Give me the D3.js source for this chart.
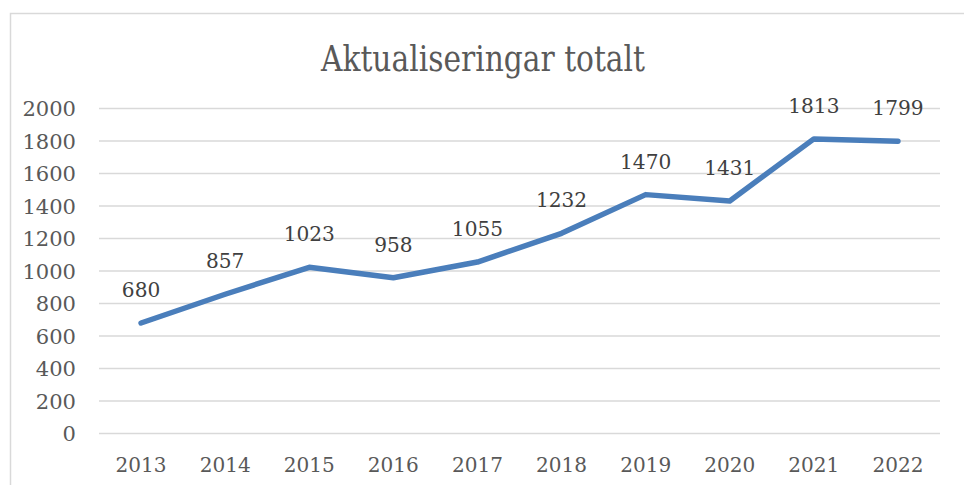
<!DOCTYPE html>
<html>
<head>
<meta charset="utf-8">
<script src="https://cdn.jsdelivr.net/npm/d3@7"></script>
<style>
  body { margin: 0; background: #fff; }
  svg { display: block; }
</style>
</head>
<body>
<script>
// data
var years = ['2013', '2014', '2015', '2016', '2017', '2018', '2019', '2020', '2021', '2022'];
var values = [680, 857, 1023, 958, 1055, 1232, 1470, 1431, 1813, 1799];
var yTicks = [0, 200, 400, 600, 800, 1000, 1200, 1400, 1600, 1800, 2000];
var title = 'Aktualiseringar totalt';

var width = 964, height = 485;
var font = '"DejaVu Serif", "Liberation Serif", serif';

var svg = d3.select('body')
    .append('svg')
    .attr('width', width)
    .attr('height', height);

// chart frame (runs off the right and bottom edge)
svg.append('rect')
    .attr('x', 10.5)
    .attr('y', 13.5)
    .attr('width', 1000)
    .attr('height', 600)
    .attr('fill', 'none')
    .attr('stroke', '#d9d9d9')
    .attr('stroke-width', 1.5);

var x = d3.scaleBand()
    .domain(years)
    .range([99, 940]);

var y = d3.scaleLinear()
    .domain([0, 2000])
    .range([433.5, 108.5]);

// gridlines
svg.append('g')
    .selectAll('line')
    .data(yTicks)
    .enter()
    .append('line')
    .attr('x1', 99)
    .attr('x2', 940)
    .attr('y1', function (d) { return y(d); })
    .attr('y2', function (d) { return y(d); })
    .attr('stroke', '#d9d9d9')
    .attr('stroke-width', 1.5);

// y axis labels
svg.append('g')
    .selectAll('text')
    .data(yTicks)
    .enter()
    .append('text')
    .attr('x', 76)
    .attr('y', function (d) { return y(d) + 7.5; })
    .attr('text-anchor', 'end')
    .attr('textLength', function (d) { return String(d).length * 13.4; })
    .attr('lengthAdjust', 'spacingAndGlyphs')
    .style('font-family', font)
    .style('font-size', '21px')
    .attr('fill', '#595959')
    .text(function (d) { return d; });

// x axis labels
svg.append('g')
    .selectAll('text')
    .data(years)
    .enter()
    .append('text')
    .attr('x', function (d) { return x(d) + x.bandwidth() / 2; })
    .attr('y', 472)
    .attr('text-anchor', 'middle')
    .attr('textLength', 51)
    .attr('lengthAdjust', 'spacingAndGlyphs')
    .style('font-family', font)
    .style('font-size', '21px')
    .attr('fill', '#595959')
    .text(function (d) { return d; });

// line
var line = d3.line()
    .x(function (d, i) { return x(years[i]) + x.bandwidth() / 2; })
    .y(function (d) { return y(d); });

svg.append('path')
    .datum(values)
    .attr('d', line)
    .attr('fill', 'none')
    .attr('stroke', '#4a7ebb')
    .attr('stroke-width', 5.5)
    .attr('stroke-linecap', 'round')
    .attr('stroke-linejoin', 'round');

// data labels above points
svg.append('g')
    .selectAll('text')
    .data(values)
    .enter()
    .append('text')
    .attr('x', function (d, i) { return x(years[i]) + x.bandwidth() / 2; })
    .attr('y', function (d) { return y(d) - 26; })
    .attr('text-anchor', 'middle')
    .attr('textLength', function (d) { return String(d).length * 12.8; })
    .attr('lengthAdjust', 'spacingAndGlyphs')
    .style('font-family', font)
    .style('font-size', '21px')
    .attr('fill', '#404040')
    .text(function (d) { return d; });

// title
svg.append('text')
    .attr('x', 483)
    .attr('y', 71)
    .attr('text-anchor', 'middle')
    .attr('textLength', 324)
    .attr('lengthAdjust', 'spacingAndGlyphs')
    .style('font-family', font)
    .style('font-size', '35px')
    .attr('fill', '#595959')
    .text(title);
</script>
</body>
</html>
